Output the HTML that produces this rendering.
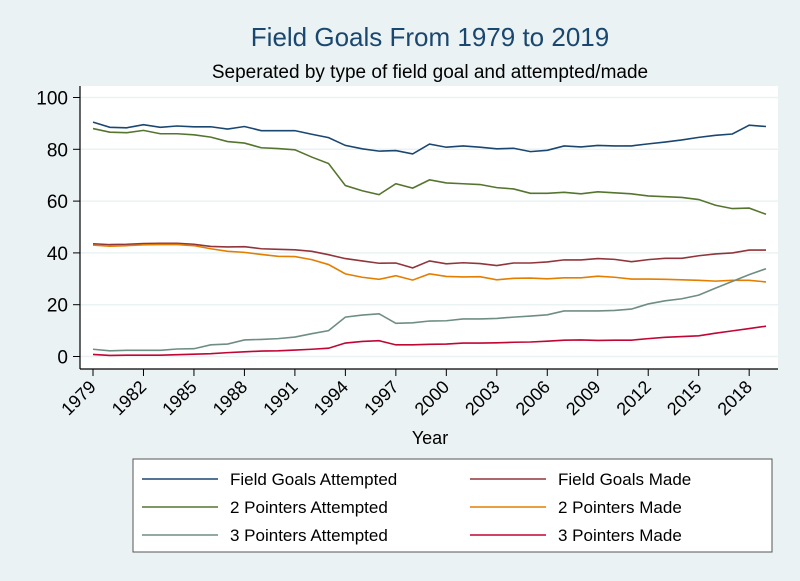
<!DOCTYPE html>
<html><head><meta charset="utf-8"><style>
html,body{margin:0;padding:0;background:#eaf2f3;}
svg{display:block;font-family:"Liberation Sans",sans-serif;}
</style></head><body>
<svg width="800" height="581" viewBox="0 0 800 581">
<rect x="0" y="0" width="800" height="581" fill="#eaf2f3"/>
<text x="430" y="46" font-size="26" fill="#1a476f" text-anchor="middle">Field Goals From 1979 to 2019</text>
<text x="430" y="78" font-size="19" fill="#000" text-anchor="middle">Seperated by type of field goal and attempted/made</text>
<rect x="80" y="86" width="698" height="283" fill="#fff"/>
<g id="grid"></g>
<g id="axes"></g>
<g id="series"></g>
<text x="430" y="444" font-size="18" text-anchor="middle">Year</text>
<g id="legend"></g>
</svg>
<script>
const years=[];for(let y=1979;y<=2019;y++)years.push(y);
const yTicks=[0,20,40,60,80,100];
const xTicks=[1979,1982,1985,1988,1991,1994,1997,2000,2003,2006,2009,2012,2015,2018];
const fga=[90.5,88.5,88.3,89.5,88.5,89,88.7,88.7,87.8,88.8,87.2,87.2,87.2,85.8,84.5,81.5,80.2,79.3,79.5,78.2,82,80.8,81.3,80.8,80.2,80.4,79.1,79.6,81.3,80.9,81.5,81.3,81.3,82.1,82.8,83.6,84.6,85.4,85.9,89.3,88.8];
const fgm=[43.5,43.2,43.3,43.6,43.7,43.7,43.3,42.5,42.3,42.4,41.6,41.4,41.2,40.6,39.3,37.8,36.9,36,36.1,34.2,36.9,35.8,36.2,35.9,35.1,36.1,36.1,36.5,37.3,37.3,37.8,37.5,36.6,37.4,37.9,37.9,38.9,39.6,40,41.1,41.1];
const p2a=[88,86.6,86.4,87.3,86,86,85.6,84.7,83,82.4,80.6,80.3,79.8,77,74.5,66,64,62.5,66.7,65,68.2,67,66.7,66.4,65.2,64.7,63,63,63.4,62.8,63.6,63.2,62.8,62,61.7,61.4,60.6,58.4,57.1,57.3,54.9];
const p2m=[43,42.6,42.8,43.1,43.2,43.2,42.8,41.6,40.6,40.2,39.4,38.7,38.6,37.4,35.5,31.9,30.6,29.8,31.2,29.5,31.9,30.9,30.7,30.8,29.6,30.2,30.3,30,30.4,30.4,31,30.6,29.9,29.9,29.8,29.6,29.4,29.1,29.4,29.4,28.8];
const p3a=[2.8,2.2,2.4,2.4,2.4,2.9,3.0,4.5,4.8,6.4,6.6,6.9,7.5,8.8,10,15.2,16,16.5,12.8,13,13.7,13.8,14.5,14.5,14.7,15.2,15.6,16.1,17.6,17.6,17.6,17.8,18.3,20.3,21.5,22.3,23.7,26.4,29,31.6,33.9];
const p3m=[0.8,0.4,0.5,0.5,0.5,0.7,0.9,1.1,1.5,1.8,2.1,2.2,2.5,2.8,3.2,5.2,5.8,6.1,4.5,4.5,4.7,4.8,5.2,5.2,5.3,5.5,5.6,5.9,6.3,6.4,6.2,6.3,6.3,6.9,7.4,7.7,8.0,9.0,9.9,10.8,11.7];
const seriesNames=["Field Goals Attempted","Field Goals Made","2 Pointers Attempted","2 Pointers Made","3 Pointers Attempted","3 Pointers Made"];
const seriesData=[fga,fgm,p2a,p2m,p3a,p3m];
const colors=["#1a476f","#90353b","#55752f","#e37e00","#6e8e84","#c10534"];
const NS="http://www.w3.org/2000/svg";
const xs=y=>93+(y-1979)*(766-93)/40;
const ys=v=>356.5-v*2.59;
function mk(tag,attrs,parent){const e=document.createElementNS(NS,tag);for(const k in attrs)e.setAttribute(k,attrs[k]);parent.appendChild(e);return e;}
const grid=document.getElementById('grid'),axes=document.getElementById('axes'),ser=document.getElementById('series'),leg=document.getElementById('legend');
yTicks.forEach(t=>{
 const g=mk('line',{x1:80,x2:778,y1:ys(t),y2:ys(t),stroke:'#eaf2f3','stroke-width':1.5},grid);
 
 
 const tk=mk('line',{x1:73,x2:80,y1:ys(t),y2:ys(t),stroke:'#000'},axes);
 
 
 const tx=mk('text',{x:68,y:ys(t)+7,'font-size':19,'text-anchor':'end'},axes);
 tx.textContent=t;
 
 
});
const ya=mk('line',{x1:80,x2:80,y1:86,y2:369,stroke:'#000','stroke-width':1.2},axes);


const xa=mk('line',{x1:80,x2:778,y1:369,y2:369,stroke:'#000','stroke-width':1.2},axes);


xTicks.forEach(t=>{
 const x=xs(t);
 const tk=mk('line',{x1:x,x2:x,y1:369,y2:376,stroke:'#000'},axes);
 
 
 const tx=mk('text',{x:x+4,y:388,'font-size':18,'text-anchor':'end',transform:`rotate(-45 ${x+4} 388)`},axes);
 tx.textContent=t;
 
 
});
seriesData.forEach((d,i)=>{
 const p=mk('polyline',{points:d.map((v,j)=>xs(years[j])+','+ys(v)).join(' '),fill:'none',stroke:colors[i],'stroke-width':1.6},ser);
 
 
});
const box=mk('rect',{x:133,y:459,width:639,height:93,fill:'#fff',stroke:'#555'},leg);


seriesNames.forEach((n,i)=>{
 const col=i%2,row=Math.floor(i/2);
 const lx=col?470:142,ty=479+row*28;
 const g=mk('g',{},leg);
 
 
 mk('line',{x1:lx,x2:lx+76,y1:ty,y2:ty,stroke:colors[i],'stroke-width':1.6},g);
 const t=mk('text',{x:lx+88,y:ty+6,'font-size':17},g);
 t.textContent=n;
});
</script>
</body></html>
